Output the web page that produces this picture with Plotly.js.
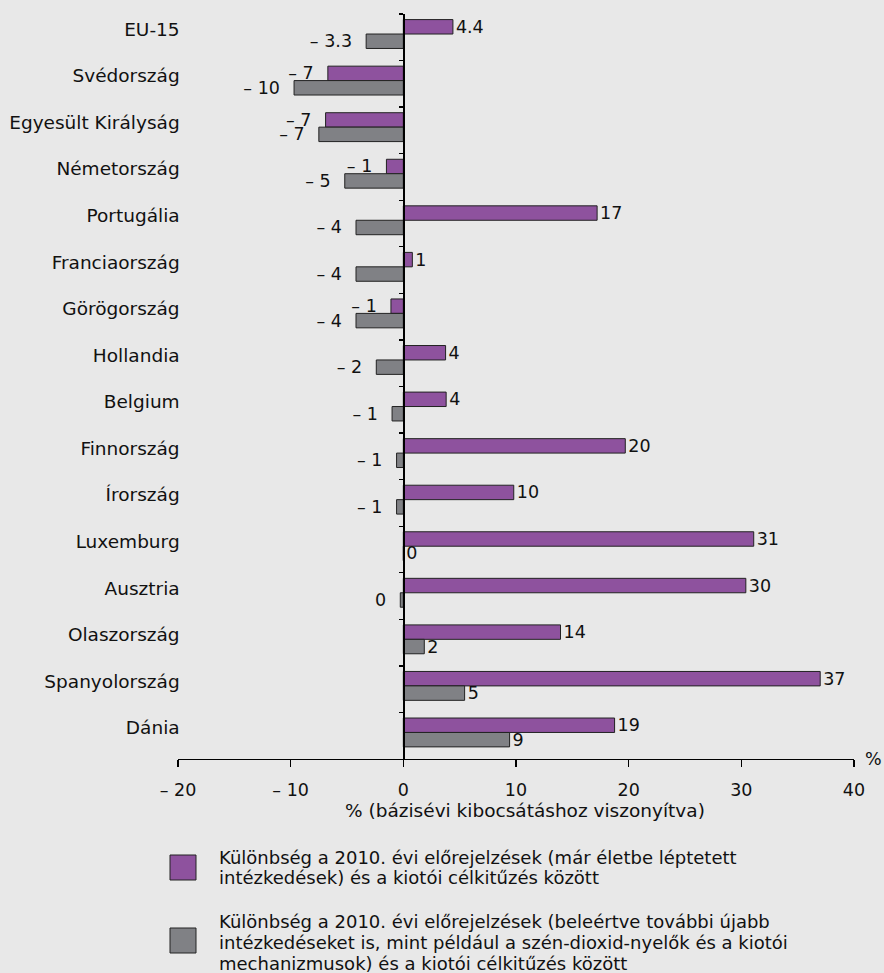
<!DOCTYPE html>
<html>
<head>
<meta charset="utf-8">
<script src="https://cdn.plot.ly/plotly-3.0.1.min.js"></script>
<style>html,body{margin:0;padding:0;background:#e8e8e8;}#chart{width:884px;height:973px;}</style>
</head>
<body>
<div id="chart"></div>
<script>
// Categories (top to bottom)
var countries = ["EU-15", "Svédország", "Egyesült Királyság", "Németország", "Portugália",
  "Franciaország", "Görögország", "Hollandia", "Belgium", "Finnország", "Írország",
  "Luxemburg", "Ausztria", "Olaszország", "Spanyolország", "Dánia"];

// Series 1: existing measures vs Kyoto target (%)
var existingValues = [4.4, -6.7, -6.9, -1.5, 17.2, 0.8, -1.1, 3.75, 3.8, 19.7, 9.8, 31.1, 30.4, 13.95, 37.0, 18.75];
var existingLabels = ["4.4", "– 7", "– 7", "– 1", "17", "1", "– 1", "4", "4", "20", "10", "31", "30", "14", "37", "19"];

// Series 2: additional measures incl. sinks and Kyoto mechanisms (%)
var additionalValues = [-3.3, -9.7, -7.5, -5.2, -4.2, -4.2, -4.2, -2.4, -1.0, -0.6, -0.6, 0, -0.27, 1.86, 5.44, 9.43];
var additionalLabels = ["– 3.3", "– 10", "– 7", "– 5", "– 4", "– 4", "– 4", "– 2", "– 1", "– 1", "– 1", "0", "0", "2", "5", "9"];

// X axis ticks
var xTickValues = [-20, -10, 0, 10, 20, 30, 40];
var xTickLabels = ["– 20", "– 10", "0", "10", "20", "30", "40"];

// Legend texts (one entry per line)
var seriesNames = [
  ["Különbség a 2010. évi előrejelzések (már életbe léptetett",
   "intézkedések) és a kiotói célkitűzés között"],
  ["Különbség a 2010. évi előrejelzések (beleértve további újabb",
   "intézkedéseket is, mint például a szén-dioxid-nyelők és a kiotói",
   "mechanizmusok) és a kiotói célkitűzés között"]
];
var xAxisTitle = "% (bázisévi kibocsátáshoz viszonyítva)";
var unitLabel = "%";

var FONT = "DejaVu Sans, Verdana, sans-serif";
var PURPLE = "#8e529e";
var GREY = "#808185";
var TXT = "#111";

// negative values get a little extra gap between label and bar end
function padLabels(labels, values) {
  return labels.map(function (t, i) { return values[i] < 0 ? t + "\u00a0\u00a0" : t; });
}

var traces = [
  {
    type: "bar", orientation: "h", name: seriesNames[0].join(" "),
    y: countries, x: existingValues, text: padLabels(existingLabels, existingValues),
    textposition: "outside", constraintext: "none", cliponaxis: false,
    textfont: {family: FONT, size: 17.5, color: TXT},
    offset: -0.38, width: 0.31,
    marker: {color: PURPLE, line: {color: "#222", width: 1}},
    hoverinfo: "x+y", showlegend: false
  },
  {
    type: "bar", orientation: "h", name: seriesNames[1].join(" "),
    y: countries, x: additionalValues, text: padLabels(additionalLabels, additionalValues),
    textposition: "outside", constraintext: "none", cliponaxis: false,
    textfont: {family: FONT, size: 17.5, color: TXT},
    offset: -0.07, width: 0.31,
    marker: {color: GREY, line: {color: "#222", width: 1}},
    hoverinfo: "x+y", showlegend: false
  }
];

var L = 178, R = 30, T = 14, B = 214;
var W = 884 - L - R, H = 973 - T - B;
function px(X) { return (X - L) / W; }
function py(Y) { return (973 - B - Y) / H; }

var annotations = [
  {xref: "paper", yref: "paper", x: px(525), y: py(810), xanchor: "center", yanchor: "middle",
   showarrow: false, text: xAxisTitle, font: {family: FONT, size: 18.5, color: TXT}},
  {xref: "paper", yref: "paper", x: 1, y: 0, xanchor: "left", yanchor: "middle", xshift: 9,
   showarrow: false, text: unitLabel, font: {family: FONT, size: 17.5, color: TXT}}
];
var legendLineY = [[857, 877], [921, 942, 963]];
seriesNames.forEach(function (lines, s) {
  lines.forEach(function (line, k) {
    annotations.push({xref: "paper", yref: "paper", x: px(217), y: py(legendLineY[s][k]),
      xanchor: "left", yanchor: "middle", align: "left", showarrow: false, text: line,
      font: {family: FONT, size: 18, color: TXT}});
  });
});

var layout = {
  width: 884, height: 973,
  paper_bgcolor: "#e8e8e8", plot_bgcolor: "#e8e8e8",
  margin: {l: L, r: R, t: T, b: B},
  font: {family: FONT, color: TXT},
  barmode: "group",
  showlegend: false,
  xaxis: {
    range: [-20, 40], tickvals: xTickValues, ticktext: xTickLabels,
    showgrid: false, zeroline: false, showline: true, linecolor: "#000", linewidth: 1.3,
    ticks: "outside", ticklen: 7, tickcolor: "#000", tickwidth: 1.3, ticklabelstandoff: 8,
    tickfont: {family: FONT, size: 17.5, color: TXT}
  },
  yaxis: {
    type: "category", categoryorder: "array", categoryarray: countries,
    range: [15.5, -0.5], anchor: "free", position: 1 / 3,
    showgrid: false, zeroline: false, showline: true, linecolor: "#000", linewidth: 1.3,
    ticks: "outside", ticklen: 4, tickcolor: "#000", tickwidth: 1.3, tickson: "boundaries",
    ticklabelstandoff: 220, ticklabelshift: 8,
    tickfont: {family: FONT, size: 18.5, color: TXT}
  },
  shapes: [
    {type: "rect", xref: "paper", yref: "paper", x0: px(170), x1: px(196), y0: py(855), y1: py(880),
     fillcolor: PURPLE, line: {color: "#222", width: 1}},
    {type: "rect", xref: "paper", yref: "paper", x0: px(170), x1: px(196), y0: py(928), y1: py(953),
     fillcolor: GREY, line: {color: "#222", width: 1}}
  ],
  annotations: annotations
};

Plotly.newPlot("chart", traces, layout, {displayModeBar: false, staticPlot: true});
</script>
</body>
</html>
